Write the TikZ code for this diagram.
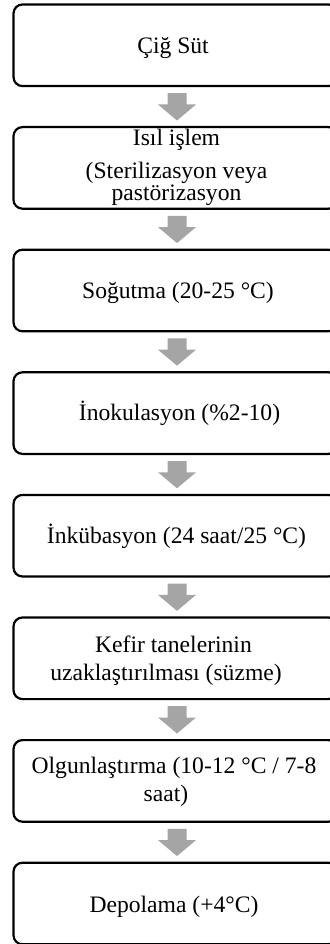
\documentclass[tikz,border=0pt]{standalone}
\usepackage{fontspec}
\setmainfont{Liberation Serif}
\usetikzlibrary{calc}
\definecolor{flowgray}{RGB}{165,165,165}

% block arrow between two steps: shaft, then a triangular head
\newcommand\flowstep[2]{%
  \fill[flowarrow] let \p1=($(#1.south)+(1.5pt,-6pt)$), \p2=($(#2.north)+(1.5pt,5.5pt)$) in
    (\x1-9.5pt,\y1) -- (\x1+9.5pt,\y1) -- (\x1+9.5pt,\y2+16pt) -- (\x1+19pt,\y2+16pt)
    -- (\x1,\y2) -- (\x1-19pt,\y2+16pt) -- (\x1-9.5pt,\y2+16pt) -- cycle;}

\begin{document}
\begin{tikzpicture}[x=1pt,y=1pt,
  stepbox/.style={draw=black, line width=2.2pt, rounded corners=9pt,
    minimum width=324pt, minimum height=81.6pt, inner sep=0pt},
  steptext/.style={font=\fontsize{23.6pt}{27.5pt}\selectfont, align=center,
    inner sep=0pt, anchor=base},
  flowarrow/.style={fill=flowgray}]

\useasboundingbox (0,0) rectangle (329,-944);

% process steps
\node[stepbox] (b1) at (175.5,-45.3)  {};
\node[stepbox] (b2) at (175.5,-167.9) {};
\node[stepbox] (b3) at (175.5,-290.5) {};
\node[stepbox] (b4) at (175.5,-413.1) {};
\node[stepbox] (b5) at (175.5,-535.7) {};
\node[stepbox] (b6) at (175.5,-658.3) {};
\node[stepbox] (b7) at (175.5,-780.9) {};
\node[stepbox] (b8) at (175.5,-903.5) {};

% step labels (a multi-line label sits on the baseline of its last line)
\node[steptext] (t1) at (173,-53.5)   {Çiğ Süt};
\node[steptext] (t2) at (176.5,-200.5){Isıl işlem\\[5.5pt](Sterilizasyon veya\\[-5.5pt]pastörizasyon};
\node[steptext] (t3) at (178,-298.3)  {Soğutma (20-25 °C)};
\node[steptext] (t4) at (179.5,-420.8){İnokulasyon (\%2-10)};
\node[steptext] (t5) at (176.5,-543.5){İnkübasyon (24 saat/25 °C)};
\node[steptext] (t6) at (166,-680)    {\hspace*{15pt}Kefir tanelerinin\\uzaklaştırılması (süzme)};
\node[steptext] (t7) at (166,-801)    {\hspace*{16pt}Olgunlaştırma (10-12 °C / 7-8\\saat)};
\node[steptext] (t8) at (174,-912)    {Depolama (+4°C)};

% connectors
\foreach \a/\b in {b1/b2,b2/b3,b3/b4,b4/b5,b5/b6,b6/b7,b7/b8}
  {\flowstep{\a}{\b}}

\end{tikzpicture}
\end{document}
